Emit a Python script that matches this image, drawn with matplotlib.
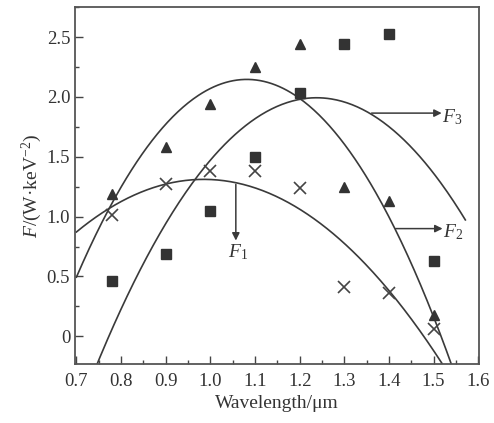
import numpy as np
import matplotlib
matplotlib.use("Agg")
import matplotlib.pyplot as plt
from matplotlib.ticker import MultipleLocator, FuncFormatter

plt.rcParams['font.family'] = ['Liberation Serif', 'DejaVu Serif']
plt.rcParams['mathtext.fontset'] = 'custom'
plt.rcParams['mathtext.rm'] = 'Liberation Serif'
plt.rcParams['mathtext.it'] = 'Liberation Serif:italic'

# measured data
wavelength = [0.78, 0.90, 1.00, 1.10, 1.20, 1.30, 1.40, 1.50]
tri_vals = [1.19, 1.58, 1.94, 2.25, 2.44, 1.25, 1.13, 0.18]
sq_vals = [0.46, 0.69, 1.05, 1.50, 2.03, 2.44, 2.53, 0.63]
x_vals = [1.01, 1.27, 1.38, 1.38, 1.24, 0.41, 0.36, 0.06]

# points
curveA_x = [0.70, 0.78, 0.90, 1.00, 1.08, 1.20, 1.31, 1.40, 1.50]
curveA_y = [0.49, 1.11, 1.78, 2.08, 2.15, 1.99, 1.54, 0.98, 0.18]
curveB_x = [0.76, 0.80, 0.90, 1.00, 1.10, 1.20, 1.30, 1.40, 1.50, 1.57]
curveB_y = [-0.11, 0.23, 0.94, 1.47, 1.82, 1.98, 1.96, 1.75, 1.36, 0.98]
curveC_x = [0.70, 0.80, 0.90, 1.00, 1.10, 1.20, 1.30, 1.40, 1.50]
curveC_y = [0.87, 1.13, 1.27, 1.31, 1.24, 1.06, 0.78, 0.38, -0.12]
curve_ranges = [(0.70, 1.56), (0.70, 1.571), (0.70, 1.56)]

xticks = [0.7, 0.8, 0.9, 1.0, 1.1, 1.2, 1.3, 1.4, 1.5, 1.6]
yticks = [0, 0.5, 1.0, 1.5, 2.0, 2.5]

ink = '#3a3a3a'
fig = plt.figure(figsize=(4.94, 4.23), dpi=100)
ax = fig.add_axes([0.152, 0.139, 0.818, 0.844])

for (cx, cy), (lo, hi) in zip([(curveA_x, curveA_y), (curveB_x, curveB_y), (curveC_x, curveC_y)], curve_ranges):
    coef = np.polyfit(cx, cy, 2)
    xs = np.linspace(lo, hi, 300)
    ax.plot(xs, np.polyval(coef, xs), color=ink, lw=1.2, zorder=2)

ax.plot(wavelength, tri_vals, ls='none', marker='^', ms=7.5, color='#333333', zorder=3)
ax.plot(wavelength, sq_vals, ls='none', marker='s', ms=7, color='#333333', zorder=3)
ax.plot(wavelength, x_vals, ls='none', marker='x', ms=8, mew=1.2, color='#444444', zorder=3)

arr = dict(arrowstyle='-|>', color=ink, lw=1.1, mutation_scale=11, shrinkA=0, shrinkB=0)
ax.annotate('', xy=(1.057, 0.80), xytext=(1.057, 1.27), arrowprops=arr)
ax.annotate('', xy=(1.518, 1.865), xytext=(1.361, 1.865), arrowprops=arr)
ax.annotate('', xy=(1.520, 0.90), xytext=(1.415, 0.90), arrowprops=arr)
ax.text(1.062, 0.70, r'$F_{1}$', fontsize=14, ha='center', va='center', color='#333333')
ax.text(1.519, 1.83, r'$F_{3}$', fontsize=14, ha='left', va='center', color='#333333')
ax.text(1.521, 0.87, r'$F_{2}$', fontsize=14, ha='left', va='center', color='#333333')

ax.set_xlim(0.697, 1.602)
ax.set_ylim(-0.233, 2.75)
ax.set_xticks(xticks)
ax.set_yticks(yticks)
ax.xaxis.set_major_formatter(FuncFormatter(lambda v, p: f'{v:.1f}'))
ax.yaxis.set_major_formatter(FuncFormatter(lambda v, p: '0' if abs(v) < 1e-9 else f'{v:.1f}'))
ax.xaxis.set_minor_locator(MultipleLocator(0.05))
ax.yaxis.set_minor_locator(MultipleLocator(0.25))
ax.tick_params(which='both', direction='in', color='#444444', labelcolor='#333333', labelsize=13.5, width=1.0)
ax.tick_params(which='major', length=6)
ax.tick_params(which='minor', length=3)
ax.tick_params(axis='x', pad=6)
for s in ax.spines.values():
    s.set_color('#555555')
    s.set_linewidth(1.3)

ax.set_xlabel('Wavelength/μm', fontsize=14, color='#333333', labelpad=4)
ax.set_ylabel(r'$F$/(W·keV$^{-2}$)', fontsize=14, color='#333333', labelpad=2)

fig.savefig('out.png', dpi=100, facecolor='white')
